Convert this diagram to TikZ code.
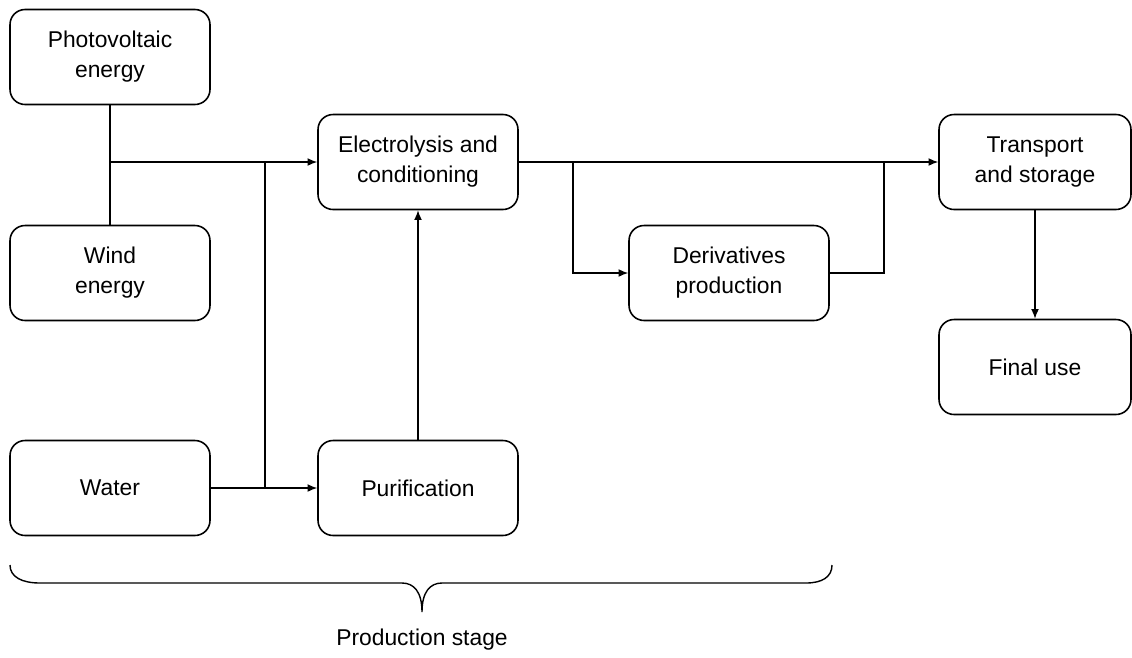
\documentclass[tikz,border=0pt]{standalone}
\usepackage{fontspec}
\setmainfont{Liberation Sans}
\usetikzlibrary{arrows.meta}
\tikzstyle{stage}=[draw=black, line width=0.9pt, rounded corners=0.3cm, minimum width=4cm, minimum height=1.9cm, align=center, font=\fontsize{13}{17}\selectfont]
\tikzstyle{flow}=[line width=0.8pt, -{Latex[length=5.5pt, width=4.5pt]}]
\tikzstyle{link}=[line width=0.8pt]

\begin{document}
\begin{tikzpicture}[x=0.02cm, y=-0.02cm]
			\useasboundingbox (0,0) rectangle (1132,657);
			\node[stage] (pv) at (110,57) {Photovoltaic\\energy};
			\node[stage] (wind) at (110,273) {Wind\\energy};
			\node[stage] (water) at (110,488) {Water};
			\node[stage] (elec) at (418,162) {Electrolysis and\\conditioning};
			\node[stage] (puri) at (418,488) {Purification};
			\node[stage] (deriv) at (729,273) {Derivatives\\production};
			\node[stage, minimum width=3.84cm] (trans) at (1035,162) {Transport\\and storage};
			\node[stage, minimum width=3.84cm] (final) at (1035,367) {Final use};
			\coordinate (pvjoin) at (110,162);
			\coordinate (waterjoin) at (265,488);
			\coordinate (split) at (573,162);
			\coordinate (merge) at (884,162);
			\draw[link] (pv) -- (wind);
			\draw[flow] (pvjoin) -- (elec.west);
			\draw[link] (waterjoin) -- (waterjoin |- elec.west);
			\draw[flow] (water) -- (puri);
			\draw[flow] (puri) -- (elec);
			\draw[flow] (elec) -- (trans);
			\draw[flow] (split) |- (deriv.west);
			\draw[link] (deriv.east) -| (merge);
			\draw[flow] (trans) -- (final);
			% brace under the production stage
			\draw[link] (10,565) .. controls (10,577) and (22,583) .. (40,583) -- (402,583)
				.. controls (414,583) and (422,592) .. (422,612)
				.. controls (422,592) and (430,583) .. (442,583) -- (806,583)
				.. controls (822,583) and (832,577) .. (832,565);
			\node[font=\fontsize{13}{17}\selectfont] (prodlabel) at (422,640) {Production stage};
		\end{tikzpicture}
\end{document}
